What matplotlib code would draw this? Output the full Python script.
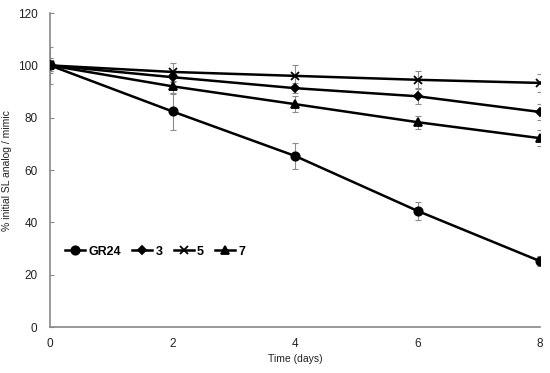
import numpy as np
import matplotlib
matplotlib.use("Agg")
import matplotlib.pyplot as plt

plt.rcParams['font.family'] = ['Liberation Sans', 'DejaVu Sans']

# data
days = [0, 2, 4, 6, 8]
gr24 = [100, 82.4, 65.4, 44.4, 25.2]
gr24_err = [7, 7, 5, 3.5, 2]
c3 = [100, 95.5, 91.3, 88.2, 82.2]
c3_err = [2, 2, 2, 3, 3]
c5 = [100, 97.5, 96, 94.5, 93.3]
c5_err = [3, 3.5, 4, 3.5, 3.5]
c7 = [100, 92, 85.2, 78.3, 72.2]
c7_err = [2, 3, 3, 2.5, 3]

fig = plt.figure(figsize=(5.5, 3.73), dpi=100)
ax = fig.add_axes([0.091, 0.123, 0.891, 0.842])

series = [
    (gr24, gr24_err, 'o', 6, "GR24"),
    (c3, c3_err, 'D', 4, "3"),
    (c5, c5_err, 'x', 6, "5"),
    (c7, c7_err, '^', 5.5, "7"),
]
for vals, err, mk, ms, lab in series:
    ax.errorbar(days, vals, yerr=err, fmt='none', ecolor='#8c8c8c', elinewidth=0.8,
                capsize=2, capthick=0.8, zorder=2)
    ax.plot(days, vals, color='black', marker=mk, markersize=ms, linewidth=1.8,
            markeredgewidth=1.3, label=lab, zorder=3)

ax.set_xlim(0, 8)
ax.set_ylim(0, 120)
ax.set_xticks([0, 2, 4, 6, 8])
ax.set_yticks([0, 20, 40, 60, 80, 100, 120])
for s in ['top', 'right']:
    ax.spines[s].set_visible(False)
for s in ['left', 'bottom']:
    ax.spines[s].set_color('#888888')
    ax.spines[s].set_linewidth(1.2)
ax.tick_params(axis='x', length=0, labelsize=8.5, pad=8, colors='#222222')
ax.tick_params(axis='y', length=3, direction='in', labelsize=8.5, pad=9, colors='#888888', labelcolor='#222222')
ax.set_xlabel("Time (days)", fontsize=7.5, color='#222222', labelpad=3)
ax.set_ylabel("% initial SL analog / mimic", fontsize=7.5, color='#222222')
ax.yaxis.set_label_coords(-0.078, 0.5)

leg = ax.legend(loc='upper left', bbox_to_anchor=(0.008, 0.295), ncol=4, frameon=False,
                handlelength=1.6, columnspacing=0.9, handletextpad=0.25,
                prop={'size': 9, 'weight': 'bold'})

fig.savefig("out.png", dpi=100)
